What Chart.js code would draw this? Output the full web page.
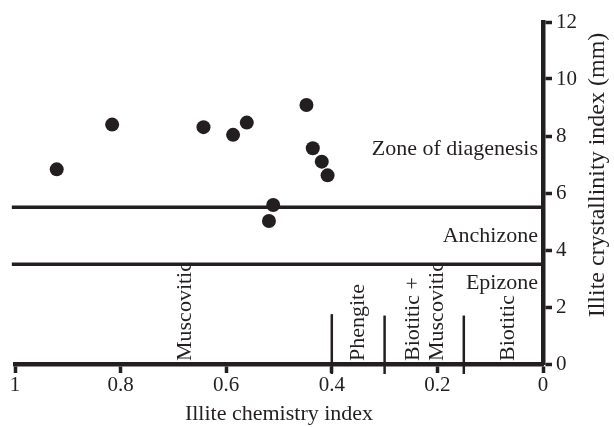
<!DOCTYPE html>
<html>
<head>
<meta charset="utf-8">
<script src="https://cdn.jsdelivr.net/npm/chart.js@4"></script>
<style>
  html, body { margin: 0; padding: 0; background: #fff; }
  canvas { display: block; }
</style>
</head>
<body>
<canvas id="chart" width="614" height="427"></canvas>
<script>
const chemistryIndex = [0.921, 0.816, 0.643, 0.587, 0.561, 0.448, 0.436, 0.419, 0.408, 0.511, 0.519];
const crystallinityIndex = [6.83, 8.40, 8.31, 8.04, 8.47, 9.09, 7.57, 7.10, 6.62, 5.58, 5.02];

const xTicks = [1, 0.8, 0.6, 0.4, 0.2, 0];
const yTicks = [0, 2, 4, 6, 8, 10, 12];

// crystallinity limits between zones, and zone names with the level their label sits at
const zoneLimits = [5.5, 3.5];
const zoneNames = ["Zone of diagenesis", "Anchizone", "Epizone"];
const zoneLabelAt = [7.55, 4.5, 2.85];

// chemistry limits between illite types
const micaLimits = [0.4, 0.3, 0.15];
const micaLimitTop = [1.75, 1.7, 1.7];
const micaNames = [["Muscovitic"], ["Phengite"], ["Biotitic +", "Muscovitic"], ["Biotitic"]];
const micaLabelAt = [0.678, 0.35, 0.224, 0.065];

const ink = "#231f20";
const serif = '"Liberation Serif", "Times New Roman", serif';

const datasets = [{
    type: "scatter",
    data: chemistryIndex.map((v, i) => ({ x: v, y: crystallinityIndex[i] })),
    backgroundColor: ink,
    borderWidth: 0,
    pointRadius: 7,
}];

zoneLimits.forEach(v => datasets.push({
    type: "line",
    data: [{ x: 1.006, y: v }, { x: 0, y: v }],
    borderColor: ink,
    borderWidth: 3.5,
    pointRadius: 0,
    clip: false,
}));

micaLimits.forEach((v, i) => datasets.push({
    type: "line",
    data: [{ x: v, y: -0.35 }, { x: v, y: micaLimitTop[i] }],
    borderColor: ink,
    borderWidth: 2.5,
    pointRadius: 0,
    clip: false,
}));

const labels = {
    id: "labels",
    afterDatasetsDraw(chart) {
        const { ctx, scales: { x, y }, chartArea } = chart;
        ctx.save();
        ctx.fillStyle = ink;
        ctx.font = "22px " + serif;

        // zone names, right aligned against the axis
        ctx.textAlign = "right";
        ctx.textBaseline = "middle";
        zoneNames.forEach((name, i) => {
            ctx.fillText(name, chartArea.right - 5, y.getPixelForValue(zoneLabelAt[i]));
        });

        // illite types, written upwards from the x axis
        ctx.textAlign = "left";
        micaNames.forEach((lines, i) => {
            const cx = x.getPixelForValue(micaLabelAt[i]);
            lines.forEach((line, j) => {
                ctx.save();
                ctx.translate(cx + (j - (lines.length - 1) / 2) * 24, chartArea.bottom - 3);
                ctx.rotate(-Math.PI / 2);
                ctx.fillText(line, 0, 0);
                ctx.restore();
            });
        });

        // y axis title, reading bottom to top
        ctx.save();
        ctx.font = "24px " + serif;
        ctx.translate(chart.width - 16, (chartArea.top + chartArea.bottom) / 2 - 18);
        ctx.rotate(-Math.PI / 2);
        ctx.textAlign = "center";
        ctx.fillText("Illite crystallinity index (mm)", 0, 0);
        ctx.restore();

        ctx.restore();
    }
};

new Chart(document.getElementById("chart"), {
    data: { datasets },
    options: {
        responsive: false,
        animation: false,
        layout: { padding: { left: 15, top: 22, right: 0, bottom: 0 } },
        plugins: { legend: { display: false }, tooltip: { enabled: false } },
        scales: {
            x: {
                type: "linear",
                position: "bottom",
                reverse: true,
                min: 0,
                max: 1,
                afterBuildTicks: s => { s.ticks = xTicks.map(v => ({ value: v })); },
                afterFit: s => { s.height = 63; },
                ticks: {
                    color: ink,
                    font: { family: serif, size: 21 },
                    padding: 0,
                    maxRotation: 0,
                    callback: v => String(v),
                },
                grid: {
                    drawOnChartArea: false,
                    drawTicks: true,
                    tickLength: 9,
                    tickWidth: 3.5,
                    tickColor: ink,
                },
                border: { display: true, width: 4.5, color: ink },
                title: {
                    display: true,
                    text: "Illite chemistry index",
                    color: ink,
                    font: { family: serif, size: 22 },
                    padding: { top: 0, bottom: 0 },
                },
            },
            y: {
                type: "linear",
                position: "right",
                min: 0,
                max: 12,
                afterBuildTicks: s => { s.ticks = yTicks.map(v => ({ value: v })); },
                afterFit: s => { s.width = 71; },
                ticks: {
                    color: ink,
                    font: { family: serif, size: 21 },
                    padding: 4,
                    callback: v => String(v),
                },
                grid: {
                    drawOnChartArea: false,
                    drawTicks: true,
                    tickLength: 9,
                    tickWidth: 3.5,
                    tickColor: ink,
                },
                border: { display: true, width: 4.5, color: ink },
            },
        },
    },
    plugins: [labels],
});
</script>
</body>
</html>
